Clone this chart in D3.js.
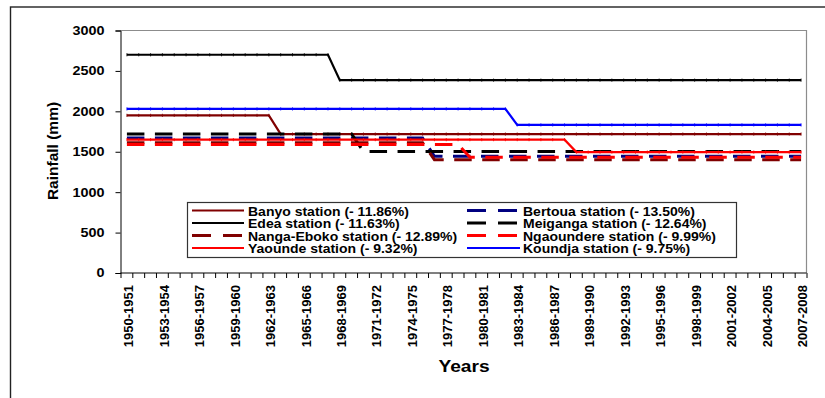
<!DOCTYPE html>
<html>
<head>
<meta charset="utf-8">
<script src="https://cdn.jsdelivr.net/npm/d3@7"></script>
<style>
  html, body { margin: 0; padding: 0; background: #fff; }
  svg { display: block; font-family: "Liberation Sans", Arial, sans-serif; font-weight: bold; }
</style>
</head>
<body>
<svg id="chart" width="825" height="398"></svg>
<script>
// Hydrological years shown on the category axis
const firstYear = 1950, lastYear = 2007;
const categories = d3.range(firstYear, lastYear + 1).map(y => `${y}-${y + 1}`);
const xTickLabels = categories.filter((c, i) => i % 3 === 0);
const yTicks = [0, 500, 1000, 1500, 2000, 2500, 3000];

// Station series order (as plotted), with break year and mean rainfall before/after the break
const stations   = ["Banyo", "Bertoua", "Edea", "Meiganga", "Nanga-Eboko", "Ngaoundere", "Yaounde", "Koundja"];
const lastYearBefore = [1962, 1975, 1967, 1969, 1975, 1978, 1987, 1982];
const meanBefore = [1950, 1670, 2700, 1720, 1610, 1590, 1650, 2030];
const meanAfter  = [1718.7, 1444.5, 2386, 1502.6, 1402.5, 1431.2, 1496.2, 1832.1];
const changePct  = ["11.86", "13.50", "11.63", "12.64", "12.89", "9.99", "9.32", "9.75"];
const colors     = ["#800000", "#000080", "#000000", "#000000", "#800000", "#ff0000", "#ff0000", "#0000ff"];
const dashed     = [false, true, false, true, true, true, false, false];

// Two-column legend, top to bottom in each column
const legendOrder = [["Banyo", "Edea", "Nanga-Eboko", "Yaounde"], ["Bertoua", "Meiganga", "Ngaoundere", "Koundja"]];

const svg = d3.select("#chart");
svg.append("rect").attr("width", 825).attr("height", 398).attr("fill", "#fff");

// outer chart frame
svg.append("rect").attr("x", 10.5).attr("y", 7).attr("width", 830).attr("height", 400)
  .attr("fill", "none").attr("stroke", "#222").attr("stroke-width", 1.4);

const plot = { left: 120.5, right: 806.5, top: 30.5, bottom: 273 };

const x = d3.scaleBand().domain(categories).range([121, 807]);
const cx = c => x(c) + x.bandwidth() / 2;
const y = d3.scaleLinear().domain([0, 3000]).range([plot.bottom, plot.top]);

// plot area border (top and right)
svg.append("path")
  .attr("d", `M${plot.left},${plot.top}H${plot.right}V${plot.bottom}`)
  .attr("fill", "none").attr("stroke", "#8c8c8c").attr("stroke-width", 1.2);

// y axis
const yAxis = svg.append("g").attr("transform", `translate(${plot.left},0)`)
  .call(d3.axisLeft(y).tickValues(yTicks).tickSize(5).tickPadding(11).tickFormat(d3.format("d")));
yAxis.select(".domain").attr("stroke", "#000");
yAxis.selectAll(".tick line").attr("stroke", "#000");
yAxis.selectAll(".tick text")
  .attr("font-size", 12).attr("font-weight", "bold").attr("fill", "#000")
  .attr("font-family", "Liberation Sans, Arial, sans-serif")
  .attr("transform", "translate(-16,0) scale(1.2,1) translate(16,0)");

// x axis: labels every third year, ticks on every category boundary
const xAxis = svg.append("g").attr("transform", `translate(0,${plot.bottom})`)
  .call(d3.axisBottom(x).tickValues(xTickLabels).tickSize(0));
xAxis.select(".domain").attr("d", `M${plot.left},0H${plot.right}`).attr("stroke", "#000");
xAxis.selectAll(".tick text")
  .attr("font-size", 13).attr("font-weight", "bold").attr("fill", "#000")
  .attr("font-family", "Liberation Sans, Arial, sans-serif")
  .attr("text-anchor", "end")
  .attr("transform", "translate(1.5,0) rotate(-90)")
  .attr("x", -12).attr("y", 0).attr("dy", "0.36em");
const boundaries = categories.map(c => x(c)).concat([x(categories[categories.length - 1]) + x.bandwidth()]);
xAxis.selectAll(".bound").data(boundaries).join("line").attr("class", "bound")
  .attr("x1", d => d).attr("x2", d => d).attr("y1", 0).attr("y2", 5)
  .attr("stroke", "#000").attr("stroke-width", 1);

// axis titles
svg.append("text").attr("transform", "translate(464,372) scale(1.13,1)")
  .attr("text-anchor", "middle").attr("font-size", 17).text("Years");
svg.append("text").attr("transform", "translate(58,151) rotate(-90)")
  .attr("text-anchor", "middle").attr("font-size", 15.5).text("Rainfall (mm)");

// build each station's yearly series from its two sub-period means
const series = stations.map((name, i) => ({
  name, color: colors[i], dashed: dashed[i],
  values: categories.map((c, k) => ({
    cat: c,
    v: firstYear + k <= lastYearBefore[i] ? meanBefore[i] : meanAfter[i]
  }))
}));

const line = d3.line().x(d => cx(d.cat)).y(d => y(d.v));

const lines = svg.append("g");
series.forEach(s => {
  lines.append("path").datum(s.values)
    .attr("d", line)
    .attr("fill", "none")
    .attr("stroke", s.color)
    .attr("stroke-width", s.dashed ? 3 : 2.2)
    .attr("stroke-dasharray", s.dashed ? "17.5,10.5" : null);
  if (!s.dashed) {
    // small point markers on the solid series
    lines.append("g").selectAll("line").data(s.values).join("line")
      .attr("x1", d => cx(d.cat)).attr("x2", d => cx(d.cat))
      .attr("y1", d => y(d.v) - 1.6).attr("y2", d => y(d.v) + 1.6)
      .attr("stroke", s.color).attr("stroke-width", 1).attr("stroke-opacity", 0.8);
  }
});

// legend
const legend = svg.append("g");
legend.append("rect").attr("x", 187.5).attr("y", 202.5).attr("width", 549).attr("height", 55)
  .attr("fill", "#fff").attr("stroke", "#333").attr("stroke-width", 1.2);
const colX = [[192, 244, 248], [467, 520, 523]];
const rowY = [210.5, 223, 235.5, 248];
legendOrder.forEach((col, ci) => {
  col.forEach((name, ri) => {
    const i = stations.indexOf(name);
    const [x0, x1, tx] = colX[ci];
    const yy = rowY[ri];
    legend.append("line").attr("x1", x0).attr("x2", x1).attr("y1", yy).attr("y2", yy)
      .attr("stroke", colors[i]).attr("stroke-width", dashed[i] ? 3 : 2.2)
      .attr("stroke-dasharray", dashed[i] ? "19,12" : null);
    legend.append("text")
      .attr("text-anchor", "start")
      .attr("transform", `translate(${tx},${yy + 5}) scale(1.12,1)`)
      .attr("font-size", 12.5)
      .text(`${name} station (- ${changePct[i]}%)`);
  });
});
</script>
</body>
</html>
